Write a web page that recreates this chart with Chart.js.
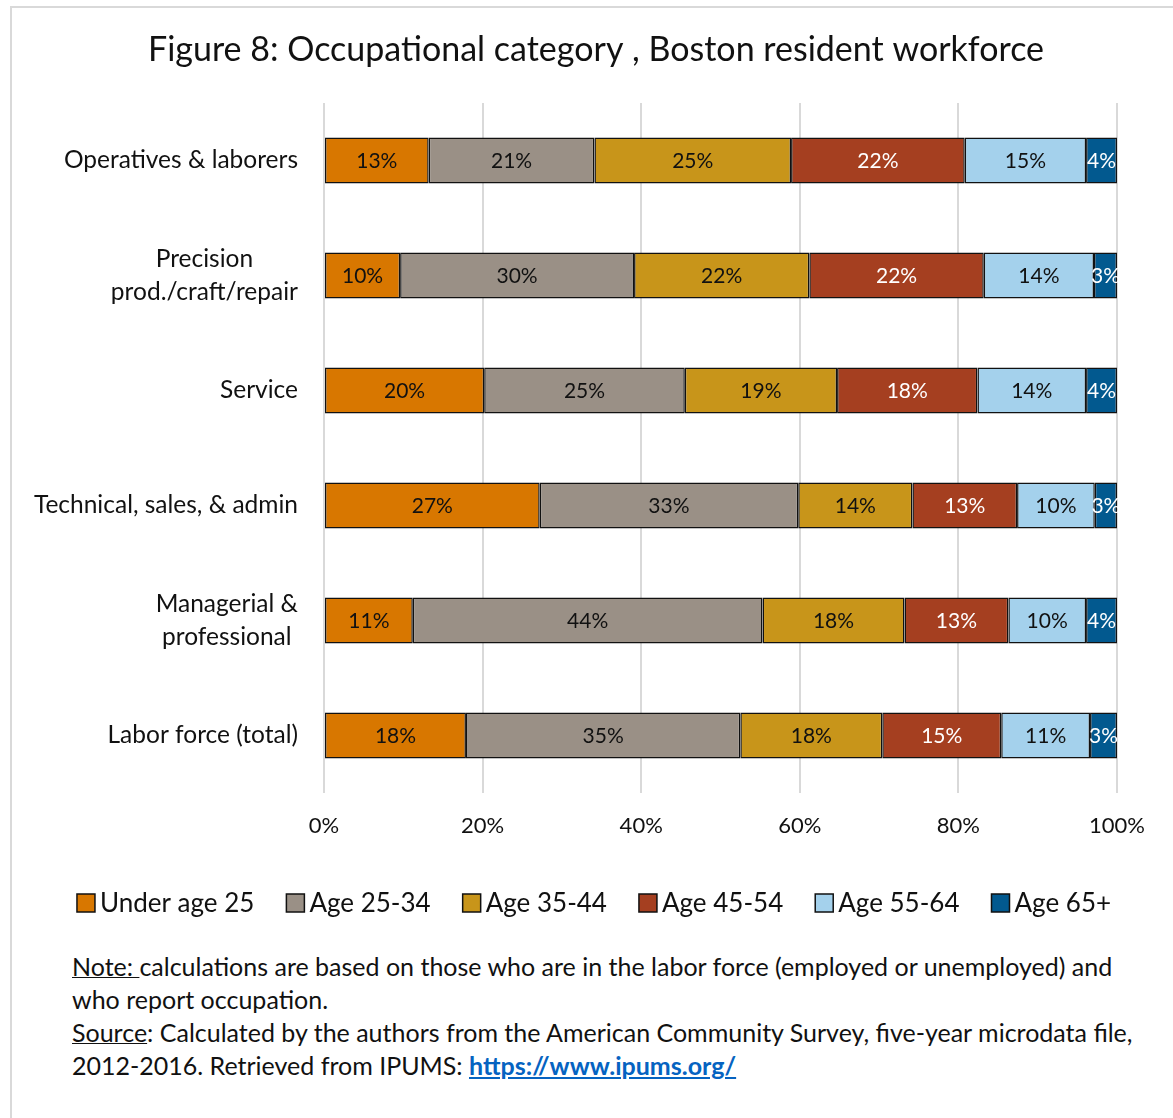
<!DOCTYPE html>
<html>
<head>
<meta charset="utf-8">
<script src="https://cdn.jsdelivr.net/npm/chart.js@4.4.1/dist/chart.umd.min.js"></script>
<style>
  body { margin: 0; background: #fff; font-family: Lato, "Open Sans", sans-serif; }
  #wrap { position: relative; width: 1173px; height: 1118px; overflow: hidden; }
  #frame { position: absolute; left: 10px; top: 6px; width: 1180px; height: 1130px; border: 2px solid #d9d9d9; box-sizing: border-box; }
  #chartBox { position: absolute; left: 0; top: 0; width: 1173px; height: 930px; }
  #note { position: absolute; left: 72px; top: 950px; width: 1095px; font-size: 25px; line-height: 33px; color: #111; white-space: nowrap; }
  #note u { text-decoration-thickness: 1px; }
  #note a { color: #0563C1; font-weight: bold; text-decoration: underline; }
</style>
</head>
<body>
<div id="wrap">
  <div id="frame"></div>
  <div id="chartBox"><canvas id="occChart"></canvas></div>
  <div id="note">
    <u>Note: </u>calculations are based on those who are in the labor force (employed or unemployed) and<br>
    who report occupation.<br>
    <u>Source</u>: Calculated by the authors from the American Community Survey, five-year microdata file,<br>
    2012-2016. Retrieved from IPUMS: <a href="https://www.ipums.org/">https://www.ipums.org/</a>
  </div>
</div>
<script>
// categories, top to bottom
const categories = [
    'Operatives & laborers',
    ['Precision', 'prod./craft/repair'],
    'Service',
    'Technical, sales, & admin',
    ['Managerial &', 'professional'],
    'Labor force (total)'
];

// percent share by age group (one array per age group, same order as categories)
const underAge25 = [13.2, 9.6, 20.2, 27.2, 11.2, 17.9];
const age25to34  = [20.9, 29.5, 25.3, 32.6, 44.1, 34.6];
const age35to44  = [24.8, 22.1, 19.2, 14.4, 17.9, 17.9];
const age45to54  = [21.9, 22.0, 17.7, 13.2, 13.1, 15.0];
const age55to64  = [15.3, 13.9, 13.7, 9.8, 9.8, 11.2];
const age65plus  = [3.9, 2.9, 3.9, 2.8, 3.9, 3.4];

const seriesNames = ['Under age 25', 'Age 25-34', 'Age 35-44', 'Age 45-54', 'Age 55-64', 'Age 65+'];
const seriesData = [underAge25, age25to34, age35to44, age45to54, age55to64, age65plus];
const xTicks = [0, 20, 40, 60, 80, 100];

const fillColors = ['#D87700', '#9A9086', '#C8951A', '#A53F20', '#A4D1EC', '#02598F'];
const labelColors = ['#111', '#111', '#111', '#fff', '#111', '#fff'];

const FONT = 'Lato, "Open Sans", sans-serif';

const datasets = seriesNames.map((name, i) => ({
    label: name,
    data: seriesData[i],
    backgroundColor: fillColors[i],
    borderColor: '#111',
    borderWidth: 1.5,
    borderSkipped: false,
    categoryPercentage: 0.4,
    barPercentage: 1.0
}));

// title drawn centred over the figure
const titlePlugin = {
    id: 'figTitle',
    afterDraw(chart) {
        const ctx = chart.ctx;
        ctx.save();
        ctx.font = '34px ' + FONT;
        ctx.fillStyle = '#111';
        ctx.textAlign = 'center';
        ctx.textBaseline = 'middle';
        ctx.fillText('Figure 8: Occupational category , Boston resident workforce', 596, 50);
        ctx.restore();
    }
};

// category names: right aligned block, lines centred inside it
const categoryPlugin = {
    id: 'catLabels',
    afterDraw(chart) {
        const ctx = chart.ctx;
        const yScale = chart.scales.y;
        ctx.save();
        ctx.font = '24.5px ' + FONT;
        ctx.fillStyle = '#111';
        ctx.textAlign = 'center';
        ctx.textBaseline = 'middle';
        categories.forEach((cat, i) => {
            const lines = Array.isArray(cat) ? cat : [cat];
            const w = Math.max(...lines.map(l => ctx.measureText(l).width));
            const cx = chart.chartArea.left - 26 - w / 2;
            const yc = yScale.getPixelForTick(i);
            const lh = 33;
            lines.forEach((l, k) => {
                ctx.fillText(l, cx, yc + (k - (lines.length - 1) / 2) * lh);
            });
        });
        ctx.restore();
    }
};

// rounded value labels centred in each segment
const valuePlugin = {
    id: 'segLabels',
    afterDatasetsDraw(chart) {
        const ctx = chart.ctx;
        ctx.save();
        ctx.font = '21px ' + FONT;
        ctx.textAlign = 'center';
        ctx.textBaseline = 'middle';
        chart.data.datasets.forEach((ds, i) => {
            const meta = chart.getDatasetMeta(i);
            meta.data.forEach((bar, j) => {
                const p = bar.getProps(['x', 'y', 'base'], true);
                ctx.fillStyle = labelColors[i];
                ctx.fillText(Math.round(ds.data[j]) + '%', (p.x + p.base) / 2, p.y + 1);
            });
        });
        ctx.restore();
    }
};

// legend row under the axis
const legendPlugin = {
    id: 'legendRow',
    afterDraw(chart) {
        const ctx = chart.ctx;
        const box = 18, gap = 5, itemGap = 32, y = 903;
        ctx.save();
        ctx.font = '26px ' + FONT;
        ctx.textBaseline = 'middle';
        ctx.textAlign = 'left';
        const widths = seriesNames.map(n => box + gap + ctx.measureText(n).width);
        const total = widths.reduce((a, b) => a + b, 0) + itemGap * (widths.length - 1);
        let x = 594 - total / 2;
        seriesNames.forEach((n, i) => {
            ctx.fillStyle = fillColors[i];
            ctx.fillRect(x, y - box / 2, box, box);
            ctx.strokeStyle = '#111';
            ctx.lineWidth = 1.5;
            ctx.strokeRect(x, y - box / 2, box, box);
            ctx.fillStyle = '#111';
            ctx.fillText(n, x + box + gap, y + 1);
            x += widths[i] + itemGap;
        });
        ctx.restore();
    }
};

const ctx = document.getElementById('occChart').getContext('2d');
new Chart(ctx, {
    type: 'bar',
    data: { labels: categories, datasets: datasets },
    plugins: [titlePlugin, categoryPlugin, valuePlugin, legendPlugin],
    options: {
        indexAxis: 'y',
        responsive: true,
        maintainAspectRatio: false,
        animation: false,
        layout: { padding: { top: 103, right: 56, bottom: 77, left: 0 } },
        plugins: {
            legend: { display: false },
            title: { display: false },
            tooltip: { enabled: false }
        },
        scales: {
            x: {
                stacked: true,
                min: 0,
                max: 100,
                afterBuildTicks: scale => { scale.ticks = xTicks.map(v => ({ value: v })); },
                afterFit: scale => { scale.height = 60; },
                grid: { color: '#d9d9d9', lineWidth: 2, drawTicks: false },
                border: { display: false },
                ticks: {
                    padding: 20,
                    color: '#111',
                    font: { family: FONT, size: 22 },
                    callback: v => v + '%'
                }
            },
            y: {
                stacked: true,
                afterFit: scale => { scale.width = 324; },
                grid: { display: false },
                border: { display: false },
                ticks: { display: false }
            }
        }
    }
});
</script>
</body>
</html>
